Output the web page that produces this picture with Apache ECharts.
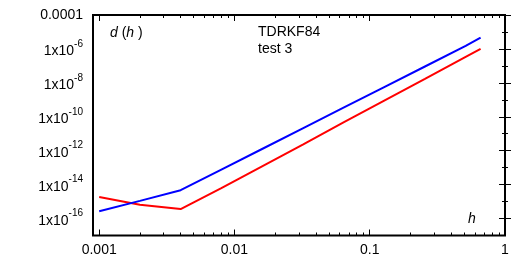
<!DOCTYPE html>
<html><head><meta charset="utf-8">
<script src="https://cdn.jsdelivr.net/npm/echarts@6/dist/echarts.min.js"></script>
<style>html,body{margin:0;padding:0;background:#fff}#c{width:532px;height:266px}</style>
</head><body><div id="c"></div>
<script>
// step sizes h
const h = [0.001, 0.002, 0.004, 0.008, 0.016, 0.032, 0.064, 0.128, 0.256, 0.512, 0.66];
// error d(h), blue series
const blue = [2.7e-16, 1.1e-15, 4.7e-15, 7.7e-14, 1.26e-12, 2.08e-11, 3.42e-10, 5.6e-9, 9.2e-8, 1.52e-6, 4.6e-6];
// error d(h), red series
const red = [1.86e-15, 6.5e-16, 3.6e-16, 6.2e-15, 1.2e-13, 2.3e-12, 4.6e-11, 8.9e-10, 1.7e-8, 3.4e-7, 1.0e-6];
// tick values and labels
const xTicks = [0.001, 0.01, 0.1, 1];
const xTickLabels = ['0.001', '0.01', '0.1', '1'];
const yTicks = [1e-16, 1e-14, 1e-12, 1e-10, 1e-8, 1e-6, 1e-4];
const yTickLabels = ['{m|1x10}{s|-16}', '{m|1x10}{s|-14}', '{m|1x10}{s|-12}', '{m|1x10}{s|-10}', '{m|1x10}{s|-8}', '{m|1x10}{s|-6}', '{p|0.0001}'];
const xRange = [0.0009, 1];
const yRange = [1e-17, 1e-4];

const L = Math.log10;
const FONT = '"Liberation Sans", Arial, Helvetica, sans-serif';

const xMinor = [];
for (let n = -4; n <= -1; n++) for (let k = 2; k <= 9; k++) {
  const v = k * Math.pow(10, n);
  if (v > xRange[0] * 1.0001 && v < xRange[1]) xMinor.push(L(v));
}
const yMinor = [];
for (let e = -15; e <= -5; e += 2) yMinor.push(e);

function findIdx(arr, v) { return arr.findIndex(t => Math.abs(L(t) - v) < 1e-6); }

function xAxisDef(pos, major, withLabels) {
  return {
    type: 'value', min: L(xRange[0]), max: L(xRange[1]), position: pos,
    axisLine: { show: false }, splitLine: { show: false },
    axisTick: { show: true, inside: true, length: major ? 6 : 3, customValues: major ? xTicks.map(L) : xMinor, lineStyle: { color: '#000', width: 1 } },
    axisLabel: withLabels ? {
      show: true, customValues: xTicks.map(L), margin: 8, fontSize: 14, color: '#000', fontFamily: FONT,
      formatter: v => { const i = findIdx(xTicks, v); return i >= 0 ? xTickLabels[i] : ''; }
    } : { show: false }
  };
}
function yAxisDef(pos, major, withLabels) {
  return {
    type: 'value', min: L(yRange[0]), max: L(yRange[1]), position: pos,
    axisLine: { show: false }, splitLine: { show: false },
    axisTick: { show: true, inside: true, length: major ? 6 : 3, customValues: major ? yTicks.map(L) : yMinor, lineStyle: { color: '#000', width: 1 } },
    axisLabel: withLabels ? {
      show: true, customValues: yTicks.map(L), margin: 10, color: '#000', fontFamily: FONT, fontSize: 14,
      formatter: v => { const i = findIdx(yTicks, v); return i >= 0 ? yTickLabels[i] : ''; },
      rich: {
        m: { fontSize: 14, fontFamily: FONT, color: '#000', padding: [5, 0, 0, 0] },
        s: { fontSize: 10, fontFamily: FONT, color: '#000', padding: [0, 0, 10, 0] },
        p: { fontSize: 14, fontFamily: FONT, color: '#000' }
      }
    } : { show: false }
  };
}

const chart = echarts.init(document.getElementById('c'), null, { renderer: 'canvas' });
chart.setOption({
  animation: false,
  backgroundColor: '#fff',
  grid: { left: 93, right: 27, top: 15, bottom: 30.5, show: true, borderColor: '#000', borderWidth: 2, backgroundColor: 'transparent' },
  xAxis: [xAxisDef('bottom', true, true), xAxisDef('bottom', false, false), xAxisDef('top', true, false), xAxisDef('top', false, false)],
  yAxis: [yAxisDef('left', true, true), yAxisDef('left', false, false), yAxisDef('right', true, false), yAxisDef('right', false, false)],
  series: [
    { type: 'line', name: 'red', xAxisIndex: 0, yAxisIndex: 0, showSymbol: false, symbol: 'none',
      lineStyle: { color: '#ff0000', width: 2 }, data: h.map((x, i) => [L(x), L(red[i])]) },
    { type: 'line', name: 'blue', xAxisIndex: 0, yAxisIndex: 0, showSymbol: false, symbol: 'none',
      lineStyle: { color: '#0000ff', width: 2 }, data: h.map((x, i) => [L(x), L(blue[i])]) }
  ],
  graphic: [
    { type: 'text', x: 110, y: 33.5, style: { text: '{i|d} ({i|h} )', fill: '#000', font: '14px ' + FONT, verticalAlign: 'middle', align: 'left',
      rich: { i: { fontStyle: 'italic', fontSize: 14, fontFamily: FONT, fill: '#000' } } } },
    { type: 'text', x: 258, y: 32.5, style: { text: 'TDRKF84', fill: '#000', font: '14px ' + FONT, verticalAlign: 'middle', align: 'left' } },
    { type: 'text', x: 258, y: 49, style: { text: 'test 3', fill: '#000', font: '14px ' + FONT, verticalAlign: 'middle', align: 'left' } },
    { type: 'text', x: 468, y: 219, style: { text: 'h', fill: '#000', font: 'italic 14px ' + FONT, verticalAlign: 'middle', align: 'left' } }
  ]
});
</script></body></html>
